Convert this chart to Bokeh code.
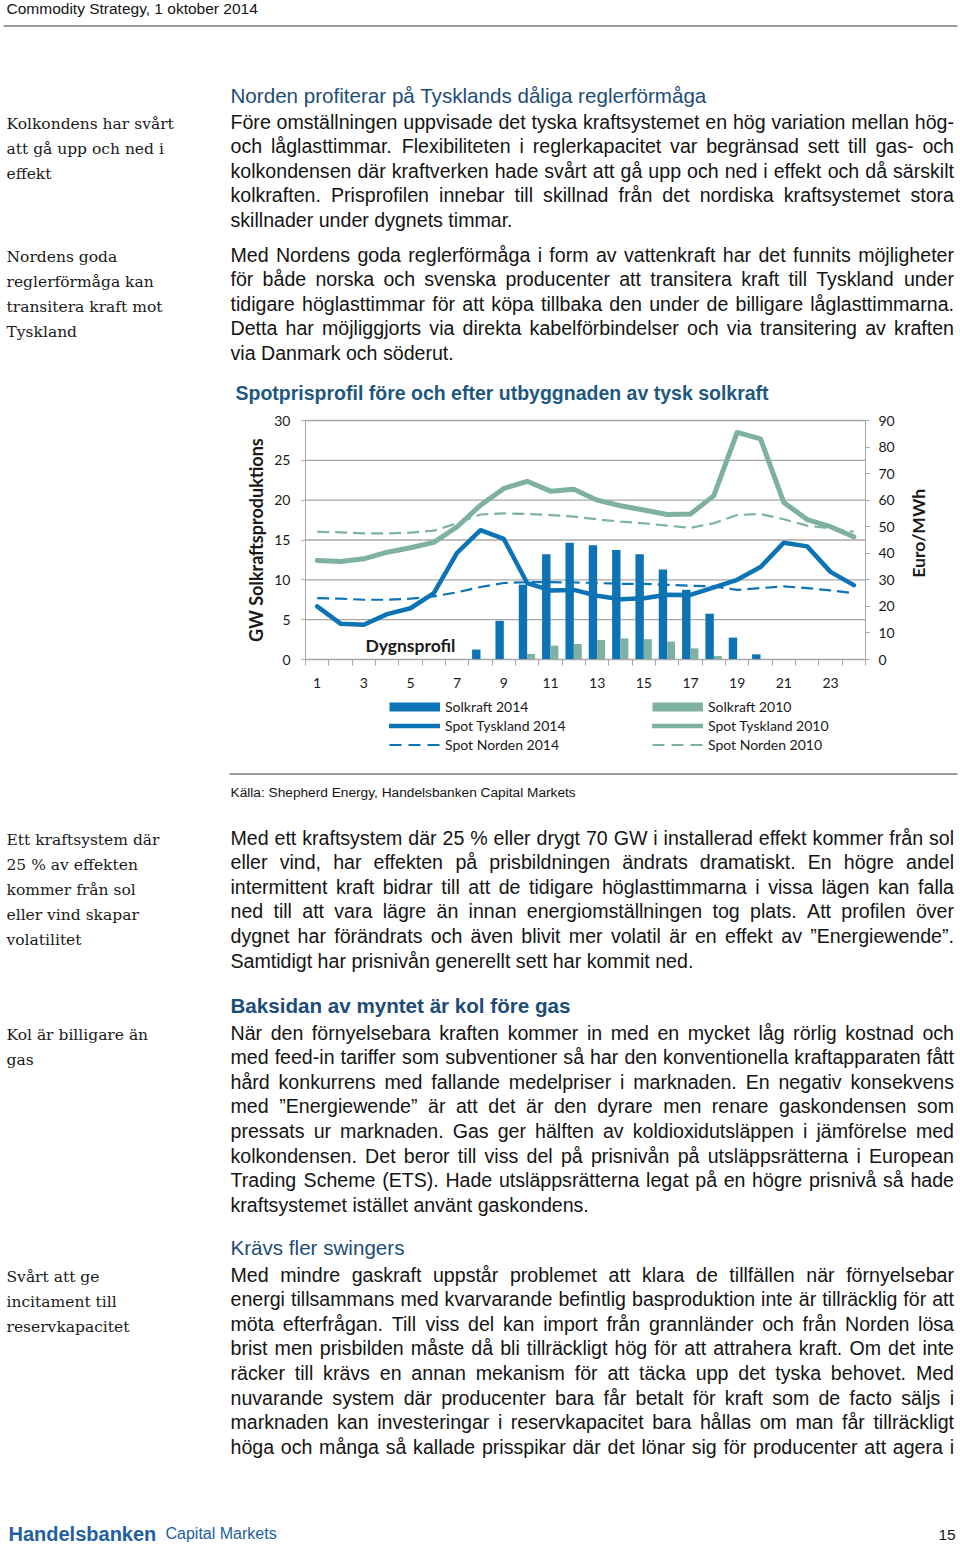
import math
from bokeh.plotting import figure
from bokeh.models import Range1d, LinearAxis, FixedTicker, Legend, LegendItem, ColumnDataSource
from bokeh.transform import dodge
from bokeh.core.properties import value
from bokeh.embed import file_html
from bokeh.resources import INLINE

# ---------------- chart data ----------------
hours = list(range(1, 25))
hour_labels = [1, 3, 5, 7, 9, 11, 13, 15, 17, 19, 21, 23]
gw_ticks = [0, 5, 10, 15, 20, 25, 30]
euro_ticks = [0, 10, 20, 30, 40, 50, 60, 70, 80, 90]

solkraft_2014 = [0, 0, 0, 0, 0, 0, 0.05, 1.25, 4.85, 9.4, 13.2, 14.65,
                 14.35, 13.75, 13.2, 11.3, 8.75, 5.75, 2.75, 0.65, 0, 0, 0, 0]
solkraft_2010 = [0, 0, 0, 0, 0, 0, 0, 0, 0.08, 0.7, 1.75, 1.95,
                 2.45, 2.65, 2.55, 2.25, 1.4, 0.45, 0.05, 0, 0, 0, 0, 0]
spot_tyskland_2014 = [20.0, 13.5, 13.1, 17.1, 19.3, 25.0, 40.2, 48.7, 45.4, 28.8, 26.0, 26.2,
                      24.0, 22.7, 23.1, 24.4, 24.3, 27.2, 30.0, 34.8, 44.0, 42.6, 33.0, 28.0]
spot_tyskland_2010 = [37.3, 36.9, 37.9, 40.4, 42.1, 44.1, 50.0, 58.1, 64.4, 67.1, 63.4, 64.1,
                      60.0, 57.9, 56.3, 54.6, 54.8, 61.7, 85.5, 83.1, 59.1, 52.7, 50.0, 46.2]
spot_norden_2014 = [23.1, 22.9, 22.5, 22.5, 22.9, 23.8, 25.3, 27.3, 28.8, 29.1, 29.1, 29.0,
                    28.8, 28.5, 28.5, 28.1, 27.8, 27.5, 26.2, 26.9, 27.5, 26.9, 26.0, 25.0]
spot_norden_2010 = [48.1, 47.9, 47.5, 47.5, 47.8, 48.5, 51.3, 54.6, 55.0, 54.8, 54.4, 53.8,
                    52.8, 51.9, 51.3, 50.4, 49.6, 51.3, 54.4, 54.8, 52.8, 50.4, 49.4, 48.1]

# ---------------- page text ----------------
header_text = "Commodity Strategy, 1 oktober 2014"
chart_title = "Spotprisprofil före och efter utbyggnaden av tysk solkraft"
source_text = "Källa: Shepherd Energy, Handelsbanken Capital Markets"

heading1 = "Norden profiterar på Tysklands dåliga reglerförmåga"
para1 = [("Före omställningen uppvisade det tyska kraftsystemet en hög variation mellan hög-", True),
         ("och låglasttimmar. Flexibiliteten i reglerkapacitet var begränsad sett till gas- och", True),
         ("kolkondensen där kraftverken hade svårt att gå upp och ned i effekt och då särskilt", True),
         ("kolkraften. Prisprofilen innebar till skillnad från det nordiska kraftsystemet stora", True),
         ("skillnader under dygnets timmar.", False)]
para2 = [("Med Nordens goda reglerförmåga i form av vattenkraft har det funnits möjligheter", True),
         ("för både norska och svenska producenter att transitera kraft till Tyskland under", True),
         ("tidigare höglasttimmar för att köpa tillbaka den under de billigare låglasttimmarna.", True),
         ("Detta har möjliggjorts via direkta kabelförbindelser och via transitering av kraften", True),
         ("via Danmark och söderut.", False)]
para3 = [("Med ett kraftsystem där 25 % eller drygt 70 GW i installerad effekt kommer från sol", True),
         ("eller vind, har effekten på prisbildningen ändrats dramatiskt. En högre andel", True),
         ("intermittent kraft bidrar till att de tidigare höglasttimmarna i vissa lägen kan falla", True),
         ("ned till att vara lägre än innan energiomställningen tog plats. Att profilen över", True),
         ("dygnet har förändrats och även blivit mer volatil är en effekt av ”Energiewende”.", True),
         ("Samtidigt har prisnivån generellt sett har kommit ned.", False)]
heading2 = "Baksidan av myntet är kol före gas"
para4 = [("När den förnyelsebara kraften kommer in med en mycket låg rörlig kostnad och", True),
         ("med feed-in tariffer som subventioner så har den konventionella kraftapparaten fått", True),
         ("hård konkurrens med fallande medelpriser i marknaden. En negativ konsekvens", True),
         ("med ”Energiewende” är att det är den dyrare men renare gaskondensen som", True),
         ("pressats ur marknaden. Gas ger hälften av koldioxidutsläppen i jämförelse med", True),
         ("kolkondensen. Det beror till viss del på prisnivån på utsläppsrätterna i European", True),
         ("Trading Scheme (ETS). Hade utsläppsrätterna legat på en högre prisnivå så hade", True),
         ("kraftsystemet istället använt gaskondens.", False)]
heading3 = "Krävs fler swingers"
para5 = [("Med mindre gaskraft uppstår problemet att klara de tillfällen när förnyelsebar", True),
         ("energi tillsammans med kvarvarande befintlig basproduktion inte är tillräcklig för att", True),
         ("möta efterfrågan. Till viss del kan import från grannländer och från Norden lösa", True),
         ("brist men prisbilden måste då bli tillräckligt hög för att attrahera kraft. Om det inte", True),
         ("räcker till krävs en annan mekanism för att täcka upp det tyska behovet. Med", True),
         ("nuvarande system där producenter bara får betalt för kraft som de facto säljs i", True),
         ("marknaden kan investeringar i reservkapacitet bara hållas om man får tillräckligt", True),
         ("höga och många så kallade prisspikar där det lönar sig för producenter att agera i", True)]

notes1 = ["Kolkondens har svårt", "att gå upp och ned i", "effekt"]
notes2 = ["Nordens goda", "reglerförmåga kan", "transitera kraft mot", "Tyskland"]
notes3 = ["Ett kraftsystem där", "25 % av effekten", "kommer från sol", "eller vind skapar", "volatilitet"]
notes4 = ["Kol är billigare än", "gas"]
notes5 = ["Svårt att ge", "incitament till", "reservkapacitet"]

# ---------------- styles / layout ----------------
W, H = 960, 1546
FX0, FX1, FY0, FY1 = 305.0, 865.0, 420.0, 659.0   # chart plot area on the page
BLUE = "#0C74B4"
GREEN = "#7EB1A1"
GRID = "#A8A8A8"
HEAD = "#1C4D78"
BODY = "#141414"
BODY_FONT = "Liberation Sans"
BODY_SIZE = 19.6
NOTE_FONT = "DejaVu Serif"
NOTE_SIZE = "15.5px"
CHART_FONT = "Lato"
LBL = "#1a1a1a"

# Arial / Liberation Sans advance widths (per 1000 em) used for justification
AW = {' ': 278, '!': 278, '"': 355, '%': 889, '(': 333, ')': 333, ',': 278, '-': 333,
      '.': 278, '/': 278, ':': 278, ';': 278, '?': 556, '”': 333, '“': 333}
for c in "0123456789":
    AW[c] = 556
AW.update(dict(A=667, B=667, C=722, D=722, E=667, F=611, G=778, H=722, I=278, J=500, K=667,
               L=556, M=833, N=722, O=778, P=667, Q=778, R=722, S=667, T=611, U=722, V=667,
               W=944, X=667, Y=667, Z=611))
AW.update(dict(a=556, b=556, c=500, d=556, e=556, f=278, g=556, h=556, i=222, j=222, k=500,
               l=222, m=833, n=556, o=556, p=556, q=556, r=333, s=500, t=278, u=556, v=500,
               w=722, x=500, y=500, z=500))
AW.update({'å': 556, 'ä': 556, 'ö': 556, 'Å': 667, 'Ä': 667, 'Ö': 778, 'é': 556})


def wlen(s, size):
    return sum(AW.get(ch, 556) for ch in s) * size / 1000.0


def para_layout(lines, y0, dy, x0=230.0, width=723.5, size=BODY_SIZE):
    xs, ys, ts = [], [], []
    for i, (line, just) in enumerate(lines):
        y = y0 + i * dy
        words = line.split(" ")
        if just and len(words) > 1:
            tot = sum(wlen(w, size) for w in words)
            gap = (width - tot) / (len(words) - 1)
            x = x0
            for w in words:
                xs.append(x); ys.append(y); ts.append(w)
                x += wlen(w, size) + gap
        else:
            xs.append(x0); ys.append(y); ts.append(line)
    return xs, ys, ts


# one page-sized figure; page text uses pixel ranges, the chart uses its own ranges
u = (FX1 - FX0) / 24.0
v = (FY1 - FY0) / 30.0
p = figure(width=W, height=H, x_range=Range1d(0, W), y_range=Range1d(H, 0),
           output_backend="svg", toolbar_location=None, tools="",
           x_axis_location=None, y_axis_location=None, min_border=0)
p.grid.visible = False
p.outline_line_color = None
p.extra_x_ranges = {"hour": Range1d(0.5 - FX0 / u, 0.5 + (W - FX0) / u)}
p.extra_y_ranges = {"gw": Range1d(-(H - FY1) / v, FY1 / v),
                    "euro": Range1d(-3 * (H - FY1) / v, 3 * FY1 / v)}


def add_text(xs, ys, ts, font, size, style="normal", color=BODY, baseline="middle"):
    src = ColumnDataSource(dict(x=xs, y=ys, t=ts))
    p.text(x="x", y="y", text="t", source=src, text_font=value(font),
           text_font_size=value(size), text_font_style=value(style), text_color=color,
           text_align="left", text_baseline=baseline)


def notes(lines, y0, dy=25.2):
    return [6] * len(lines), [y0 + i * dy for i in range(len(lines))], lines


# ---- page header / rules ----
add_text([6], [8], [header_text], BODY_FONT, "15.5px")
p.line(x=[3, 957], y=[25.5, 25.5], line_color="#3a3a3a", line_width=1)
p.line(x=[229, 957], y=[773.5, 773.5], line_color="#3a3a3a", line_width=1.2)

# ---- headings ----
add_text([230], [95], [heading1], BODY_FONT, "20.6px", color=HEAD)
add_text([230], [1005], [heading2], BODY_FONT, "20.6px", style="bold", color=HEAD)
add_text([230], [1247], [heading3], BODY_FONT, "20.6px", color=HEAD)
add_text([235], [392], [chart_title], BODY_FONT, "19.5px", style="bold", color="#1E587F")
add_text([230], [792], [source_text], BODY_FONT, "13.7px")

# ---- body text ----
bx, by, bt = [], [], []
for lines, y0 in ((para1, 121), (para2, 254), (para3, 837), (para4, 1032), (para5, 1274)):
    xs, ys, ts = para_layout(lines, y0, 24.6)
    bx += xs; by += ys; bt += ts
add_text(bx, by, bt, BODY_FONT, "%.1fpx" % BODY_SIZE)

# ---- margin notes ----
nx, ny, nt = [], [], []
for lines, y0 in ((notes1, 123), (notes2, 256), (notes3, 839), (notes4, 1034), (notes5, 1276)):
    a, b, c = notes(lines, y0)
    nx += a; ny += b; nt += c
add_text(nx, ny, nt, NOTE_FONT, NOTE_SIZE, color="#1a1a1a")

# ---- footer ----
add_text([8], [1533], ["Handelsbanken"], BODY_FONT, "20px", style="bold",
         color="#1E5FA3", baseline="alphabetic")
add_text([165], [1533], ["Capital Markets"], BODY_FONT, "16px", color="#1E5FA3",
         baseline="alphabetic")
add_text([938], [1534], ["15"], BODY_FONT, "15.5px", baseline="alphabetic")

# ---------------- chart ----------------
src = ColumnDataSource(dict(hour=hours, sol14=solkraft_2014, sol10=solkraft_2010,
                            de14=spot_tyskland_2014, de10=spot_tyskland_2010,
                            no14=spot_norden_2014, no10=spot_norden_2010))
grid_src = ColumnDataSource(dict(g=gw_ticks))
HR = dict(x_range_name="hour", y_range_name="gw")
ER = dict(x_range_name="hour", y_range_name="euro")

p.segment(x0=0.5, x1=24.5, y0="g", y1="g", source=grid_src, line_color=GRID,
          line_width=1.3, **HR)

p.vbar(x=dodge("hour", -0.18), top="sol14", width=0.36, source=src,
       fill_color=BLUE, line_color=None, **HR)
p.vbar(x=dodge("hour", 0.17), top="sol10", width=0.34, source=src,
       fill_color=GREEN, line_color=None, **HR)
p.line(x="hour", y="no10", source=src, line_color=GREEN, line_width=2.2,
       line_dash="12 6", **ER)
p.line(x="hour", y="no14", source=src, line_color=BLUE, line_width=2.2,
       line_dash="12 6", **ER)
p.line(x="hour", y="de10", source=src, line_color=GREEN, line_width=5,
       line_join="round", line_cap="round", **ER)
p.line(x="hour", y="de14", source=src, line_color=BLUE, line_width=4.5,
       line_join="round", line_cap="round", **ER)

# axes drawn at the edges of the chart area
xa = LinearAxis(fixed_location=0, bounds=(0.5, 24.5),
                ticker=FixedTicker(ticks=hour_labels, minor_ticks=[h - 0.5 for h in hours] + [24.5]),
                **HR)
xa.major_tick_line_color = None
xa.major_tick_out = 0
xa.major_tick_in = 0
xa.minor_tick_line_color = GRID
xa.minor_tick_out = 6
xa.minor_tick_in = 0
xa.axis_line_color = GRID
xa.major_label_standoff = 12
xa.major_label_text_font = CHART_FONT
xa.major_label_text_font_size = "14px"
xa.major_label_text_color = LBL
p.add_layout(xa, "below")

ya = LinearAxis(fixed_location=0.5, bounds=(0, 30), ticker=FixedTicker(ticks=gw_ticks), **HR)
ya.major_tick_out = 4
ya.major_tick_in = 0
ya.major_tick_line_color = GRID
ya.minor_tick_line_color = None
ya.axis_line_color = GRID
ya.major_label_standoff = 11
ya.major_label_text_font = CHART_FONT
ya.major_label_text_font_size = "14px"
ya.major_label_text_color = LBL
ya.axis_label = "GW Solkraftsproduktions"
ya.axis_label_text_font = CHART_FONT
ya.axis_label_text_font_style = "bold"
ya.axis_label_text_font_size = "18px"
ya.axis_label_text_color = LBL
ya.axis_label_standoff = 4
p.add_layout(ya, "left")

yr = LinearAxis(fixed_location=24.5, bounds=(0, 90), ticker=FixedTicker(ticks=euro_ticks), **ER)
yr.major_tick_out = 4
yr.major_tick_in = 0
yr.major_tick_line_color = GRID
yr.minor_tick_line_color = None
yr.axis_line_color = GRID
yr.major_label_standoff = 9
yr.major_label_text_font = CHART_FONT
yr.major_label_text_font_size = "14px"
yr.major_label_text_color = LBL
p.add_layout(yr, "right")

# right axis title, reading bottom-to-top
p.text(x=[24.5 + (918 - FX1) / u], y=[47.5], text=["Euro/MWh"], angle=math.pi / 2,
       text_font=value(CHART_FONT), text_font_size=value("17.5px"),
       text_font_style=value("bold"), text_color=LBL, text_align="center",
       text_baseline="middle", **ER)

p.text(x=[3.07], y=[1.75], text=["Dygnsprofil"], text_font=value(CHART_FONT),
       text_font_size=value("17.5px"), text_font_style=value("bold"), text_color=LBL,
       text_align="left", text_baseline="middle", **HR)

# legend swatches: hidden renderers of the same series, styled like the legend keys
sw_sol14 = p.line(x="hour", y="sol14", source=src, line_color=BLUE, line_width=9,
                  line_cap="butt", visible=False, **HR)
sw_de14 = p.line(x="hour", y="de14", source=src, line_color=BLUE, line_width=4.5,
                 line_cap="round", visible=False, **ER)
sw_no14 = p.line(x="hour", y="no14", source=src, line_color=BLUE, line_width=2.2,
                 line_dash="12 7", visible=False, **ER)
sw_sol10 = p.line(x="hour", y="sol10", source=src, line_color=GREEN, line_width=9,
                  line_cap="butt", visible=False, **HR)
sw_de10 = p.line(x="hour", y="de10", source=src, line_color=GREEN, line_width=4.5,
                 line_cap="round", visible=False, **ER)
sw_no10 = p.line(x="hour", y="no10", source=src, line_color=GREEN, line_width=2.2,
                 line_dash="12 7", visible=False, **ER)


def make_legend(items, loc):
    return Legend(items=items, location=loc, orientation="vertical", padding=0, margin=0,
                  spacing=0, glyph_width=51, glyph_height=19, label_height=19,
                  label_standoff=5, label_text_font=CHART_FONT, label_text_font_size="14px",
                  label_text_color=LBL, border_line_color=None, background_fill_alpha=0,
                  click_policy="none", inactive_fill_alpha=0)


LEG_BOTTOM = H - 754
p.add_layout(make_legend([LegendItem(label="Solkraft 2014", renderers=[sw_sol14]),
                          LegendItem(label="Spot Tyskland 2014", renderers=[sw_de14]),
                          LegendItem(label="Spot Norden 2014", renderers=[sw_no14])],
                         (389, LEG_BOTTOM)))
p.add_layout(make_legend([LegendItem(label="Solkraft 2010", renderers=[sw_sol10]),
                          LegendItem(label="Spot Tyskland 2010", renderers=[sw_de10]),
                          LegendItem(label="Spot Norden 2010", renderers=[sw_no10])],
                         (652, LEG_BOTTOM)))

open("out.html", "w").write(file_html(p, INLINE))
